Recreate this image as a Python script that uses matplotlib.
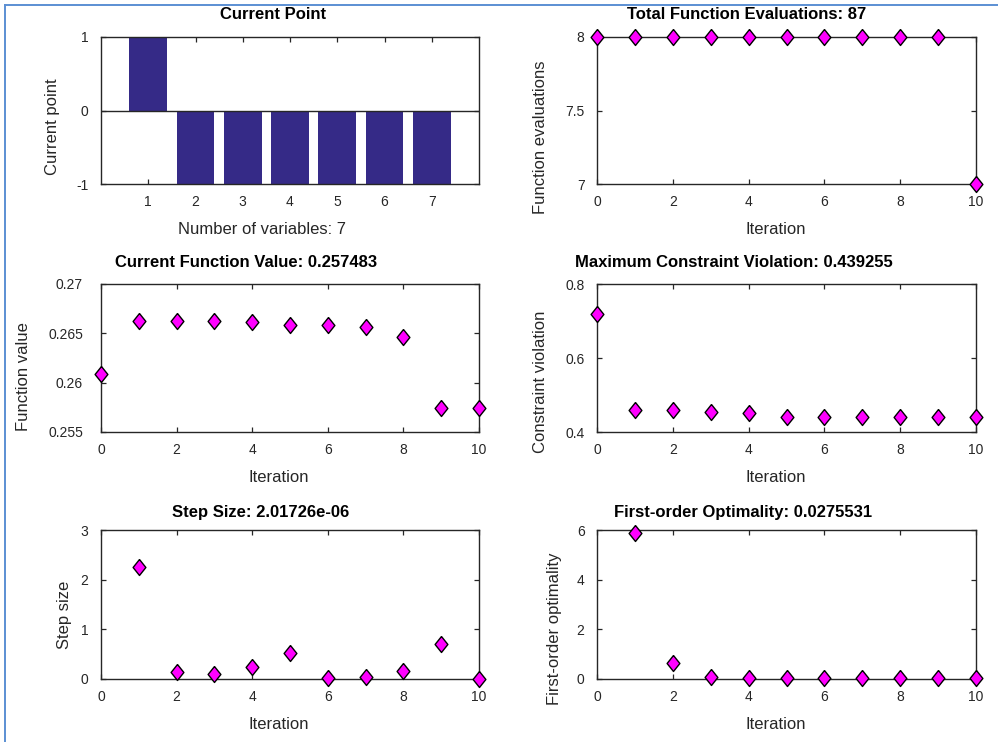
import matplotlib
matplotlib.use("Agg")
import matplotlib.pyplot as plt
from matplotlib.lines import Line2D
from matplotlib.ticker import FuncFormatter

plt.rcParams["font.family"] = ["Liberation Sans", "DejaVu Sans"]

# ── Data ────────────────────────────────────────────────────────────
var_index = [1, 2, 3, 4, 5, 6, 7]
current_point = [1, -1, -1, -1, -1, -1, -1]

iterations = list(range(11))
func_evals = [8, 8, 8, 8, 8, 8, 8, 8, 8, 8, 7]
func_value = [0.26091, 0.26628, 0.26628, 0.26628, 0.26615, 0.26581,
              0.26581, 0.26568, 0.26459, 0.25747, 0.257483]
constr_viol = [0.7198, 0.4586, 0.4586, 0.4541, 0.4505, 0.4396,
               0.4393, 0.4393, 0.4393, 0.4393, 0.439255]

step_iters = list(range(1, 11))
step_size = [2.245, 0.142, 0.108, 0.236, 0.526, 0.02, 0.04, 0.169, 0.708,
             2.01726e-06]
optimality = [5.88, 0.63, 0.08, 0.04, 0.03, 0.03, 0.03, 0.03, 0.03,
              0.0275531]

# ── Style ───────────────────────────────────────────────────────────
W, H = 998, 742
AX_COL = "#262626"
BAR_COL = "#352A87"
MAG = "#FF00FF"
BORDER = "#5B8FD3"
DIAMOND = [(0, 1), (0.8, 0), (0, -1), (-0.8, 0), (0, 1)]


def px_axes(fig, x0, y0, x1, y1):
    return fig.add_axes([x0 / W, (H - y1) / H, (x1 - x0) / W, (y1 - y0) / H])


# text anchors are a bit off-centre in the original window, keep them so
def style(ax, title, xlabel, ylabel, tx=0.5, xx=0.5, yy=0.5,
          ylabelpad=12, ytickpad=9, titlepad=12):
    for s in ax.spines.values():
        s.set_color(AX_COL)
        s.set_linewidth(1.0)
    ax.tick_params(direction="in", top=True, right=True, length=3.5,
                   width=0.9, colors=AX_COL, labelsize=10)
    ax.tick_params(axis="x", pad=8)
    ax.tick_params(axis="y", pad=ytickpad)
    ax.set_title(title, fontsize=12, fontweight="bold", pad=titlepad,
                 color="black", x=tx)
    ax.set_xlabel(xlabel, fontsize=12, color=AX_COL, labelpad=9.5, x=xx)
    ax.set_ylabel(ylabel, fontsize=12, color=AX_COL, labelpad=ylabelpad, y=yy)
    ax.yaxis.set_major_formatter(FuncFormatter(lambda v, p: f"{v:g}"))


def diamonds(ax, x, y):
    ax.plot(x, y, linestyle="none", marker=DIAMOND, markersize=11.5,
            markerfacecolor=MAG, markeredgecolor="black", markeredgewidth=1.0,
            clip_on=False, zorder=5)


fig = plt.figure(figsize=(W / 100, H / 100), dpi=100, facecolor="white")

# border lines like the screenshot frame
fig.add_artist(Line2D([5 / W, 1], [1 - 5 / H, 1 - 5 / H], color=BORDER, lw=1.4))
fig.add_artist(Line2D([5 / W, 5 / W], [0, 1 - 5 / H], color=BORDER, lw=1.4))

# ── Current point (bar) ─────────────────────────────────────────────
ax = px_axes(fig, 101, 37, 479, 184)
ax.bar(var_index, current_point, width=0.8, color=BAR_COL, zorder=2)
ax.axhline(0, color=AX_COL, lw=1.0, zorder=3)
ax.set_xlim(0, 8)
ax.set_ylim(-1, 1)
ax.set_xticks(var_index)
ax.set_yticks([-1, 0, 1])
style(ax, "Current Point", "Number of variables: 7", "Current point",
      tx=0.454, xx=0.426, yy=0.388, ylabelpad=12, titlepad=13)

# ── Function evaluations ────────────────────────────────────────────
ax = px_axes(fig, 597, 37, 976, 184)
diamonds(ax, iterations, func_evals)
ax.set_xlim(0, 10)
ax.set_ylim(7, 8)
ax.set_xticks([0, 2, 4, 6, 8, 10])
ax.set_yticks([7, 7.5, 8])
style(ax, "Total Function Evaluations: 87", "Iteration", "Function evaluations",
      tx=0.396, xx=0.472, yy=0.320, ylabelpad=12.5, titlepad=13)

# ── Function value ──────────────────────────────────────────────────
ax = px_axes(fig, 101, 284, 479, 432)
diamonds(ax, iterations, func_value)
ax.set_xlim(0, 10)
ax.set_ylim(0.255, 0.27)
ax.set_xticks([0, 2, 4, 6, 8, 10])
ax.set_yticks([0.255, 0.26, 0.265, 0.27])
style(ax, "Current Function Value: 0.257483", "Iteration", "Function value",
      tx=0.384, xx=0.471, yy=0.372, ylabelpad=12.5, ytickpad=13)

# ── Constraint violation ────────────────────────────────────────────
ax = px_axes(fig, 597, 284, 976, 432)
diamonds(ax, iterations, constr_viol)
ax.set_xlim(0, 10)
ax.set_ylim(0.4, 0.8)
ax.set_xticks([0, 2, 4, 6, 8, 10])
ax.set_yticks([0.4, 0.6, 0.8])
style(ax, "Maximum Constraint Violation: 0.439255", "Iteration",
      "Constraint violation", tx=0.361, xx=0.472, yy=0.338, ylabelpad=12.5)

# ── Step size ───────────────────────────────────────────────────────
ax = px_axes(fig, 101, 530, 479, 679)
diamonds(ax, step_iters, step_size)
ax.set_xlim(0, 10)
ax.set_ylim(0, 3)
ax.set_xticks([0, 2, 4, 6, 8, 10])
ax.set_yticks([0, 1, 2, 3])
style(ax, "Step Size: 2.01726e-06", "Iteration", "Step size",
      tx=0.421, xx=0.471, yy=0.430, ylabelpad=6.5, titlepad=9)

# ── First-order optimality ──────────────────────────────────────────
ax = px_axes(fig, 597, 530, 976, 679)
diamonds(ax, step_iters, optimality)
ax.set_xlim(0, 10)
ax.set_ylim(0, 6)
ax.set_xticks([0, 2, 4, 6, 8, 10])
ax.set_yticks([0, 2, 4, 6])
style(ax, "First-order Optimality: 0.0275531", "Iteration",
      "First-order optimality", tx=0.385, xx=0.472, yy=0.336,
      ylabelpad=10.5, titlepad=9)

fig.savefig("out.png", dpi=100, facecolor="white")
